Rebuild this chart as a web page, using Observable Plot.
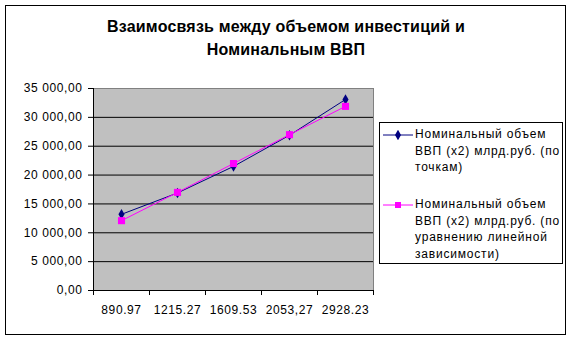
<!DOCTYPE html>
<html>
<head>
<meta charset="utf-8">
<script src="https://cdn.jsdelivr.net/npm/d3@7"></script>
<script src="https://cdn.jsdelivr.net/npm/@observablehq/plot@0.6"></script>
<style>
  html, body { margin: 0; padding: 0; background: #fff; }
  #wrap { position: relative; width: 572px; height: 341px; font-family: Arial, "Liberation Sans", sans-serif; }
  #border { position: absolute; left: 5px; top: 5px; width: 559px; height: 328px; border: 1px solid #000; }
  #title { position: absolute; left: 0; width: 572px; top: 15px; text-align: center; font-weight: bold; font-size: 16px; line-height: 23px; color: #000; letter-spacing: 0.2px; }
  #legend { position: absolute; left: 379px; top: 122px; width: 182px; height: 140px; border: 1px solid #000; background: #fff; font-size: 12px; line-height: 16.7px; color: #000; letter-spacing: 0.8px; }
  .item { position: absolute; left: 35px; width: 146px; }
  .key { position: absolute; left: 3px; width: 30px; }
  #chart { position: absolute; left: 0; top: 0; }
  #chart text { letter-spacing: 0.6px; }
</style>
</head>
<body>
<div id="wrap">
  <div id="border"></div>
  <div id="chart"></div>
  <div id="title">Взаимосвязь между объемом инвестиций и<br>Номинальным ВВП</div>
  <div id="legend"></div>
</div>
<script>
const categories = ["890.97", "1215.27", "1609.53", "2053,27", "2928.23"];
const seriesPoints = [13200, 16900, 21500, 26900, 33100];
const seriesLinear = [12100, 17000, 22000, 27000, 31900];
const yTicks = [0, 5000, 10000, 15000, 20000, 25000, 30000, 35000];
const seriesNames = [
  "Номинальный объем ВВП (x2) млрд.руб. (по точкам)",
  "Номинальный объем ВВП (x2) млрд.руб. (по уравнению линейной зависимости)"
];
const colors = ["#000080", "#ff00ff"];

const dataA = categories.map((c, i) => ({cat: c, v: seriesPoints[i]}));
const dataB = categories.map((c, i) => ({cat: c, v: seriesLinear[i]}));

const loc = d3.formatLocale({decimal: ",", thousands: " ", grouping: [3], currency: ["", ""]});
const fmt = loc.format(",.2f");

const half = 28; // half of category step in px
const last = categories[categories.length - 1];

const chart = Plot.plot({
  width: 572,
  height: 341,
  marginLeft: 93,
  marginRight: 199,
  marginTop: 88,
  marginBottom: 51,
  style: {fontFamily: "Arial, 'Liberation Sans', sans-serif", fontSize: "12px", color: "#000", background: "transparent"},
  x: {type: "point", domain: categories, padding: 0.5, axis: null, label: null},
  y: {domain: [0, 35000], axis: null, label: null},
  marks: [
    Plot.frame({fill: "#c0c0c0", stroke: null}),
    Plot.ruleY(yTicks.filter(d => d > 0 && d < 35000), {stroke: "#000", strokeWidth: 1}),
    Plot.ruleY([35000], {stroke: "#808080"}),
    Plot.ruleX([last], {dx: half, stroke: "#808080"}),
    Plot.ruleY([0], {stroke: "#000"}),
    Plot.ruleX([categories[0]], {dx: -half, stroke: "#000"}),
    // x boundary ticks
    Plot.ruleX(categories, {dx: -half, y1: 0, y2: -870, stroke: "#000"}),
    Plot.ruleX([last], {dx: half, y1: 0, y2: -870, stroke: "#000"}),
    // axes
    Plot.axisY(yTicks, {tickSize: 5, tickPadding: 6, tickFormat: fmt, stroke: "#000", fill: "#000", fontSize: 12, label: null}),
    Plot.axisX(categories, {tickSize: 0, tickPadding: 15, fill: "#000", fontSize: 12, label: null}),
    // series
    Plot.line(dataA, {x: "cat", y: "v", stroke: colors[0], strokeWidth: 1}),
    Plot.dot(dataA, {x: "cat", y: "v", symbol: "diamond", r: 3.2, fill: colors[0], stroke: null}),
    Plot.line(dataB, {x: "cat", y: "v", stroke: colors[1], strokeWidth: 1}),
    Plot.dot(dataB, {x: "cat", y: "v", symbol: "square", r: 4, fill: colors[1], stroke: null})
  ]
});
document.getElementById("chart").appendChild(chart);

// legend
const legend = d3.select("#legend");
const tops = [3, 73];
seriesNames.forEach((name, i) => {
  legend.append("div").attr("class", "item").style("top", tops[i] + "px").text(name);
  const svg = legend.append("svg").attr("class", "key").attr("width", 30).attr("height", 10)
    .style("top", (tops[i] + 4) + "px");
  svg.append("line").attr("x1", 0).attr("x2", 30).attr("y1", 5).attr("y2", 5).attr("stroke", colors[i]).attr("stroke-width", 1);
  if (i === 0) {
    svg.append("path").attr("d", d3.symbol(d3.symbolDiamond, 32)()).attr("transform", "translate(15,5)").attr("fill", colors[i]);
  } else {
    svg.append("rect").attr("x", 12).attr("y", 2).attr("width", 6).attr("height", 6).attr("fill", colors[i]);
  }
});
</script>
</body>
</html>
